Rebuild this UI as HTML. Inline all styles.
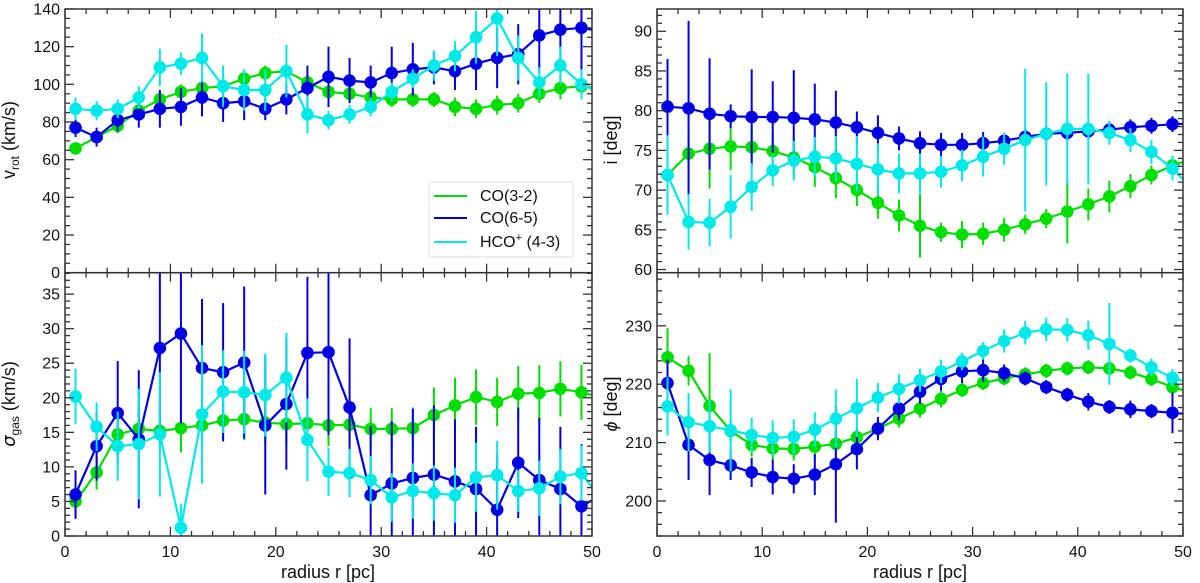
<!DOCTYPE html>
<html><head><meta charset="utf-8">
<style>
body{margin:0;background:#fff;width:1200px;height:583px;overflow:hidden}
svg{display:block;font-family:"Liberation Sans","DejaVu Sans",sans-serif}
</style></head>
<body>
<svg id="fig" width="1200" height="583" viewBox="0 0 1200 583"></svg>
<script>
// ---- data ----
const radii = [1,3,5,7,9,11,13,15,17,19,21,23,25,27,29,31,33,35,37,39,41,43,45,47,49,51];
const seriesNames = ["CO(3-2)","CO(6-5)","HCO+(4-3)"];
// v_rot
const vrotCO32 = [66,72,78,86,92,96,98,99,103,106,107,101,96,95,93,92,92,92,88,87,89,90,95,98,99,98];
const vrotCO65 = [77,72,81,84,87,88,93,90,91,87,92,98,104,102,101,106,108,109,107,111,114,116,126,129,130,128];
const vrotHCO  = [87,86,87,93,109,111,114,99,97,97,107,84,81,84,88,96,103,110,115,125,135,114,101,110,100,95];
const vrotErrCO32 = [3,3,4,4,4,4,4,4,4,4,4,4,4,4,4,4,4,4,5,5,5,5,5,6,5,5];
const vrotErrCO65 = [5,5,6,7,10,10,10,10,10,6,8,12,16,12,9,14,14,9,10,14,16,16,20,22,25,20];
const vrotErrHCO  = [6,5,5,6,10,6,13,11,11,11,14,10,5,5,5,5,5,8,8,14,20,12,8,10,8,8];
// sigma_gas
const sigCO32 = [5,9.2,14.7,15.5,15.2,15.6,16,16.7,16.9,16.4,16.2,16.3,16,16.1,15.5,15.5,15.6,17.5,18.9,20.1,19.4,20.6,20.7,21.3,20.8,20];
const sigCO65 = [6,13,17.8,14,27.2,29.3,24.3,23.7,25.1,16,19.1,26.5,26.6,18.6,5.9,7.6,8.4,8.9,7.9,6.8,3.8,10.6,8.1,6.8,4.3,6];
const sigHCO  = [20.2,15.8,13,13.3,14.7,1.2,17.6,20.9,20.8,20.4,22.9,13.9,9.3,9.1,8.1,5.6,6.5,6.2,5.9,8.5,8.8,6.5,6.9,8.6,9.1,5];
const sigErrCO32 = [2.5,2.5,3,3,3,3.5,3,3,3,3,3,3,3,3,3,3,3,4,4,4,3.5,4,4,4,4,4];
const sigErrCO65 = [3.5,5,7.5,10,13,13,10,10,11,10,9.5,11,12,10,10,9,10,10,9,9,8,8,9,9,9,8];
const sigErrHCO  = [4,3.5,5,8,9,3.5,10,6,6,6,6.5,6,3.5,3.5,3.5,3.5,4,4,4,5,5,3,4,4,4,4];
// inclination
const incCO32 = [71.9,74.6,75.2,75.5,75.4,74.9,74.1,72.9,71.5,70,68.4,66.8,65.5,64.7,64.4,64.5,65,65.7,66.4,67.3,68.2,69.2,70.5,71.9,73.1,74];
const incCO65 = [80.5,80.3,79.6,79.3,79.2,79.2,79.1,78.9,78.5,77.9,77.2,76.5,75.9,75.7,75.7,75.9,76.2,76.7,77.1,77.2,77.4,77.6,77.9,78.1,78.3,78.4];
const incHCO  = [71.9,66,65.9,67.9,70.4,72.5,73.7,74.2,74,73.3,72.6,72.1,72.1,72.3,73.1,74.2,75.2,76.3,77.1,77.7,77.7,77.2,76.3,74.8,72.7,70];
const incErrCO32 = [4.5,2,5,3,2.5,2.5,2.5,2.5,2.5,2,2,2,4,1.2,1.7,1.4,1.5,1.2,1.2,4,2,2,1.5,1.2,1.2,1.2];
const incErrCO65 = [6,11,7,1.5,6,4.5,6,4.5,4,2,2.2,1.5,1.5,1.5,1.5,1.4,1,1,1,1,1,1,1,1,1,1];
const incErrHCO  = [5,3.5,3,4,3,2,2.5,2.5,2.8,3.5,3.3,2.5,2.5,2,2,2.5,2,9,6.5,7,7,1.5,1.5,1.5,1.5,1.5];
// position angle
const phiCO32 = [224.6,222.3,216.3,212,209.6,209,208.9,209.3,209.8,210.9,212.4,214.1,215.8,217.5,219,220.2,221,221.7,222.3,222.7,222.9,222.7,222,220.9,219.5,218.5];
const phiCO65 = [220.2,209.6,207,206.1,204.9,204.1,203.8,204.5,206.3,208.9,212.4,215.8,218.7,220.9,222.2,222.4,221.9,221,219.5,218.2,217,216.1,215.7,215.4,215.1,214.8];
const phiHCO  = [216.2,213.5,212.8,212.1,211.3,210.8,211,212.2,214.1,215.9,217.7,219.2,220.7,222.2,223.9,225.7,227.4,228.8,229.4,229.3,228.4,226.9,224.9,222.9,221.1,220];
const phiErrCO32 = [5,2.5,9,2,2,2,2,2,2,1.5,1.5,1.5,1.5,1.5,1.2,1.2,1.2,1.2,1.2,1.2,1.2,1.2,1.2,1.2,1.2,1.2];
const phiErrCO65 = [4,6,6,2.5,2.5,3,2.5,3.5,10,3.5,2,2,2,2,2,2,1.5,1.2,1.2,1.2,1.5,1.2,1.5,1.2,3.5,3];
const phiErrHCO  = [5,5,4.5,7,3,3,3,3,5,5,2.5,2.5,2,2,1.5,1.5,2,2,2,2,2.5,7,1.2,1.5,1.5,1.5];
const xTicks = [0,10,20,30,40,50];

const colors = ["#00e000","#0000e6","#00eaea"];
const NS = "http://www.w3.org/2000/svg";
const svg = document.getElementById("fig");
function mk(tag, attrs, parent){
  const e = document.createElementNS(NS, tag);
  for (const k in attrs) e.setAttribute(k, attrs[k]);
  (parent||svg).appendChild(e);
  return e;
}

const panels = [
  {name:"vrot-panel", x0:65, x1:592, y0:9, y1:272.7, ymin:0, ymax:140, major:20, minor:5,
   series:[vrotCO32,vrotCO65,vrotHCO], errs:[vrotErrCO32,vrotErrCO65,vrotErrHCO], xlabels:false},
  {name:"sigma-panel", x0:65, x1:592, y0:272.7, y1:536, ymin:0, ymax:38.1, major:5, minor:1,
   series:[sigCO32,sigCO65,sigHCO], errs:[sigErrCO32,sigErrCO65,sigErrHCO], xlabels:true},
  {name:"inclination-panel", x0:657, x1:1183, y0:9, y1:272.7, ymin:59.6, ymax:92.8, major:5, minor:1,
   series:[incCO32,incCO65,incHCO], errs:[incErrCO32,incErrCO65,incErrHCO], xlabels:false},
  {name:"position-angle-panel", x0:657, x1:1183, y0:272.7, y1:536, ymin:194, ymax:239.1, major:10, minor:2,
   series:[phiCO32,phiCO65,phiHCO], errs:[phiErrCO32,phiErrCO65,phiErrHCO], xlabels:true}
];

panels.forEach((p, pi) => {
  const g = mk("g", {});
  
  
  const X = v => p.x0 + (v-0)/(50-0)*(p.x1-p.x0);
  const Y = v => p.y1 - (v-p.ymin)/(p.ymax-p.ymin)*(p.y1-p.y0);
  const cid = "clip"+pi;
  const cp = mk("clipPath", {id:cid}, g);
  mk("rect", {x:p.x0, y:p.y0, width:p.x1-p.x0, height:p.y1-p.y0}, cp);
  const data = mk("g", {"clip-path":"url(#"+cid+")"}, g);
  p.series.forEach((vals, si) => {
    const sg = mk("g", {}, data);
    
    
    const c = colors[si];
    radii.forEach((r,i) => {
      const eb = mk("line", {x1:X(r), x2:X(r), y1:Y(vals[i]-p.errs[si][i]), y2:Y(vals[i]+p.errs[si][i]), stroke:c, "stroke-width":2}, sg);
      
      
    });
    const pts = radii.map((r,i)=>X(r).toFixed(1)+","+Y(vals[i]).toFixed(1)).join(" ");
    const pl = mk("polyline", {points:pts, fill:"none", stroke:c, "stroke-width":2.2}, sg);
    
    
    radii.forEach((r,i) => {
      const m = mk("circle", {cx:X(r), cy:Y(vals[i]), r:6.3, fill:c}, sg);
      
      
    });
  });
  const fr = mk("rect", {x:p.x0, y:p.y0, width:p.x1-p.x0, height:p.y1-p.y0, fill:"none", stroke:"#333", "stroke-width":1.5}, g);
  
  
  for (let v=0; v<=50; v+=2) {
    const maj = v%10===0, L = maj?9:5;
    mk("line",{x1:X(v),x2:X(v),y1:p.y1,y2:p.y1-L,stroke:"#333","stroke-width":1.3},g);
    mk("line",{x1:X(v),x2:X(v),y1:p.y0,y2:p.y0+L,stroke:"#333","stroke-width":1.3},g);
  }
  if (p.xlabels) {
    xTicks.forEach(v => {
      const t = mk("text",{x:X(v),y:p.y1+21,"text-anchor":"middle","font-size":16,fill:"#111"},g);
      t.textContent = v;
      
      
    });
  }
  const eps = 1e-6;
  for (let v=Math.ceil(p.ymin/p.minor)*p.minor; v<=p.ymax+eps; v+=p.minor) {
    const maj = Math.abs(v/p.major - Math.round(v/p.major))<1e-6, L = maj?9:5;
    mk("line",{x1:p.x0,x2:p.x0+L,y1:Y(v),y2:Y(v),stroke:"#333","stroke-width":1.3},g);
    mk("line",{x1:p.x1,x2:p.x1-L,y1:Y(v),y2:Y(v),stroke:"#333","stroke-width":1.3},g);
    if (maj) {
      const t = mk("text",{x:p.x0-5,y:Y(v)+5.5,"text-anchor":"end","font-size":16,fill:"#111"},g);
      t.textContent = Math.round(v);
      
      
    }
  }
});

(function(){
  const html = `
  <text transform="translate(15,140) rotate(-90)" text-anchor="middle" font-size="18" fill="#111">v<tspan font-size="12" dy="4">rot</tspan><tspan dy="-4"> (km/s)</tspan></text>
  <text transform="translate(15,404) rotate(-90)" text-anchor="middle" font-size="18" fill="#111"><tspan font-family="DejaVu Sans" font-style="italic">σ</tspan><tspan font-size="12" dy="4">gas</tspan><tspan dy="-4">  (km/s)</tspan></text>
  <text transform="translate(617,140) rotate(-90)" text-anchor="middle" font-size="18" fill="#111">i [deg]</text>
  <text transform="translate(617,404) rotate(-90)" text-anchor="middle" font-size="18" fill="#111"><tspan font-style="italic">ϕ</tspan> [deg]</text>
  <text x="328" y="578" text-anchor="middle" font-size="18" fill="#111">radius r [pc]</text>
  <text x="920" y="578" text-anchor="middle" font-size="18" fill="#111">radius r [pc]</text>
  <g>
    <rect x="429" y="182" width="144" height="75" rx="2" fill="#fff" fill-opacity="0.9" stroke="#ddd" stroke-width="1"/>
    <line x1="434" x2="467" y1="196" y2="196" stroke="#00e000" stroke-width="2"/>
    <text x="480" y="201" font-size="16" fill="#111">CO(3-2)</text>
    <line x1="434" x2="467" y1="218" y2="218" stroke="#0000e6" stroke-width="2"/>
    <text x="480" y="223" font-size="16" fill="#111">CO(6-5)</text>
    <line x1="434" x2="467" y1="242" y2="242" stroke="#00eaea" stroke-width="2"/>
    <text x="480" y="247" font-size="16" fill="#111">HCO<tspan font-size="11" dy="-6">+</tspan><tspan dy="6"> (4-3)</tspan></text>
  </g>`;
  const tmp = document.createElementNS(NS,"g");
  tmp.innerHTML = html;
  while (tmp.firstChild) svg.appendChild(tmp.firstChild);
})();
</script>
</body></html>
